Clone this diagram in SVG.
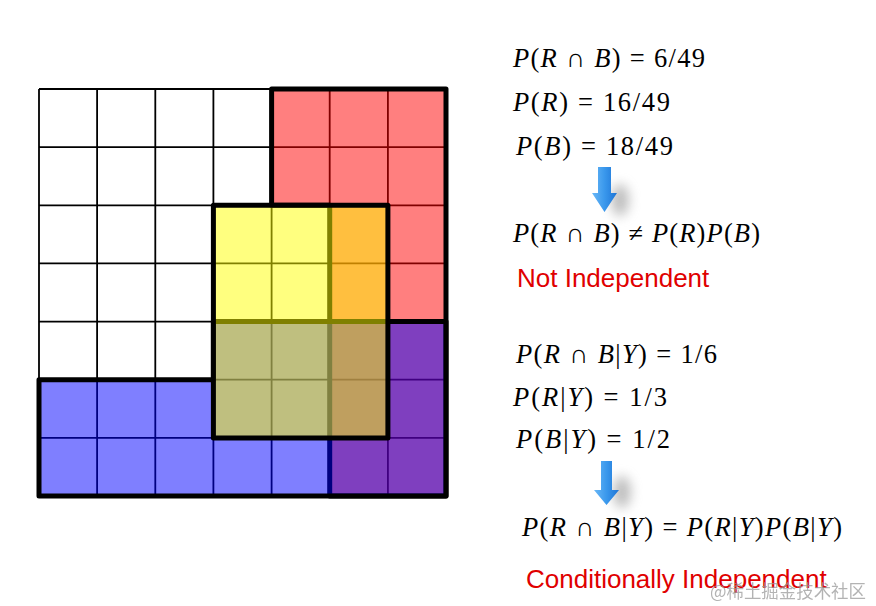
<svg xmlns="http://www.w3.org/2000/svg" width="876" height="606" viewBox="0 0 876 606">
<style>
.grid{stroke:#000;stroke-width:1.8;fill:none}
.thick{fill:none;stroke:#000;stroke-width:5;stroke-linejoin:round}
.m{font-family:"Liberation Serif","Times New Roman",serif;font-size:26.5px;fill:#000}
.i{font-style:italic}
.lbl{font-family:"Liberation Sans",Arial,sans-serif;font-size:26px;fill:#e00000}
.wm{font-family:"Noto Sans CJK SC",sans-serif;font-size:18px;fill:#9a9a9a;opacity:0.75}
</style>
<defs>
<linearGradient id="ag" x1="0" y1="0" x2="1" y2="0">
<stop offset="0" stop-color="#6ab8f7"/>
<stop offset="0.5" stop-color="#3a98ec"/>
<stop offset="1" stop-color="#1d74d6"/>
</linearGradient>
<filter id="blur" x="-100%" y="-100%" width="300%" height="300%"><feGaussianBlur stdDeviation="6"/></filter>
</defs>
<rect width="876" height="606" fill="#fff"/>
<g id="grid">
<path class="grid" d="M39,89V496M97.1,89V496M155.3,89V496M213.4,89V496M271.6,89V496M329.7,89V496M387.9,89V496M446,89V496M39,89H446M39,147.1H446M39,205.3H446M39,263.4H446M39,321.6H446M39,379.7H446M39,437.9H446M39,496H446"/>
</g>
<g id="region-R">
<path d="M271.6,89H446V496H329.7V205.3H271.6Z" fill="rgb(255,0,0)" fill-opacity="0.5"/>
<path class="thick" d="M271.6,89H446V496H329.7V205.3H271.6Z"/>
</g>
<g id="region-B">
<path d="M39,379.7H213.4V321.6H446V496H39Z" fill="rgb(0,0,255)" fill-opacity="0.5"/>
<path class="thick" d="M39,379.7H213.4V321.6H446V496H39Z"/>
</g>
<g id="region-Y">
<rect x="213.4" y="205.3" width="174.5" height="232.6" fill="rgb(255,255,0)" fill-opacity="0.5"/>
<rect class="thick" x="213.4" y="205.3" width="174.5" height="232.6"/>
</g>
<g id="formulas">
<text class="m" x="513" y="67" textLength="192" lengthAdjust="spacing"><tspan class="i">P</tspan>(<tspan class="i">R</tspan> ∩ <tspan class="i">B</tspan>) = 6/49</text>
<text class="m" x="513" y="111" textLength="157" lengthAdjust="spacing"><tspan class="i">P</tspan>(<tspan class="i">R</tspan>) = 16/49</text>
<text class="m" x="516" y="155" textLength="157" lengthAdjust="spacing"><tspan class="i">P</tspan>(<tspan class="i">B</tspan>) = 18/49</text>
<text class="m" x="513" y="242" textLength="247" lengthAdjust="spacing"><tspan class="i">P</tspan>(<tspan class="i">R</tspan> ∩ <tspan class="i">B</tspan>) ≠ <tspan class="i">P</tspan>(<tspan class="i">R</tspan>)<tspan class="i">P</tspan>(<tspan class="i">B</tspan>)</text>
<text class="lbl" x="517" y="287">Not Independent</text>
<text class="m" x="516" y="363" textLength="201" lengthAdjust="spacing"><tspan class="i">P</tspan>(<tspan class="i">R</tspan> ∩ <tspan class="i">B</tspan>|<tspan class="i">Y</tspan>) = 1/6</text>
<text class="m" x="513" y="406" textLength="154" lengthAdjust="spacing"><tspan class="i">P</tspan>(<tspan class="i">R</tspan>|<tspan class="i">Y</tspan>) = 1/3</text>
<text class="m" x="516" y="448" textLength="154" lengthAdjust="spacing"><tspan class="i">P</tspan>(<tspan class="i">B</tspan>|<tspan class="i">Y</tspan>) = 1/2</text>
<text class="m" x="522" y="536" textLength="320" lengthAdjust="spacing"><tspan class="i">P</tspan>(<tspan class="i">R</tspan> ∩ <tspan class="i">B</tspan>|<tspan class="i">Y</tspan>) = <tspan class="i">P</tspan>(<tspan class="i">R</tspan>|<tspan class="i">Y</tspan>)<tspan class="i">P</tspan>(<tspan class="i">B</tspan>|<tspan class="i">Y</tspan>)</text>
<text class="lbl" x="526" y="588">Conditionally Independent</text>
</g>
<g id="arrows">
<ellipse cx="620" cy="200" rx="9" ry="16" fill="#888" opacity="0.55" filter="url(#blur)"/>
<path d="M598,167H611V193H617L604.5,212L592,193H598Z" fill="url(#ag)"/>
<ellipse cx="622" cy="492" rx="9" ry="16" fill="#888" opacity="0.55" filter="url(#blur)"/>
<path d="M601,461H612V490H619L606.5,505L594,490H601Z" fill="url(#ag)"/>
</g>
<text class="wm" x="710" y="598" textLength="156" lengthAdjust="spacingAndGlyphs">@稀土掘金技术社区</text>
</svg>
